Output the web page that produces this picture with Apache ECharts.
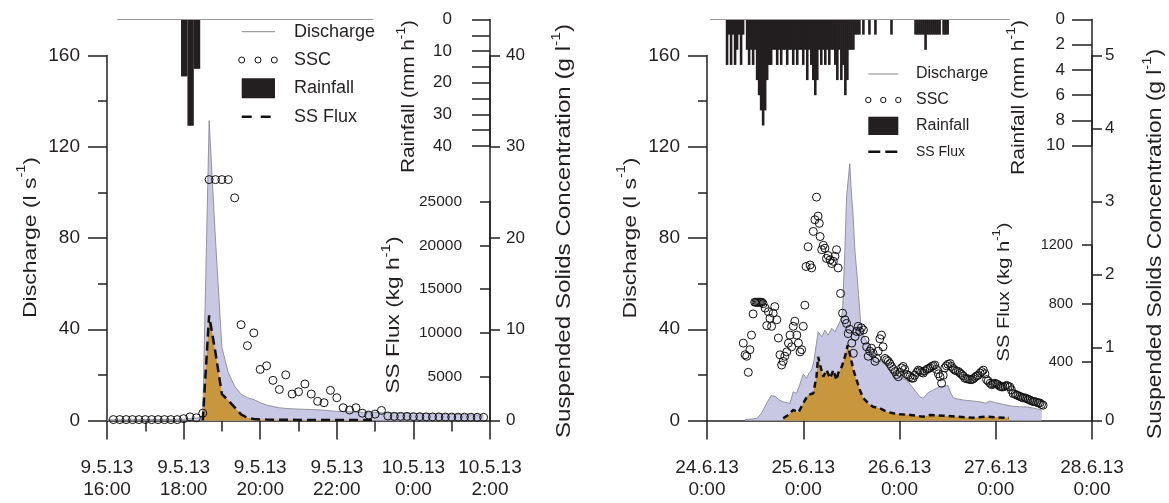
<!DOCTYPE html>
<html><head><meta charset="utf-8">
<script src="https://cdn.jsdelivr.net/npm/echarts@6/dist/echarts.min.js"></script>
<style>html,body{margin:0;padding:0;background:#fff}#c{width:1169px;height:503px}</style>
</head><body><div id="c"></div>
<script>
// ================= DATA =================
// ---- Left event: time in minutes after 9.5.13 16:00 ----
const xTickLabelsL = ["9.5.13\n16:00","9.5.13\n18:00","9.5.13\n20:00","9.5.13\n22:00","10.5.13\n0:00","10.5.13\n2:00"];
const dischargeTimeL = [0,10,20,30,40,50,60,70,80,90,100,110,120,130,140,150,160,170,180,190,200,210,220,230,240,250,260,270,280,290,300,310,320,330,340,350,360,370,380,390,400,410,420,430,440,450,460,470,480,490,500,510,520,530,540,550,560,570,580,590];
const dischargeL = [0.3,0.3,0.3,0.3,0.3,0.4,0.4,0.4,0.4,0.5,0.5,0.5,0.6,0.8,1.0,2.0,131.5,79,32,21,15,11.5,10,9.2,7.8,6.8,6.1,5.6,5.3,5.1,5.0,4.9,4.8,4.7,4.5,4.3,4.0,3.9,3.8,3.7,3.6,3.6,3.5,3.4,3.4,3.3,3.3,3.2,3.1,3.0,3.0,2.9,2.9,2.8,2.7,2.6,2.6,2.5,2.5,2.4];
const sscTimeL = [10,20,30,40,50,60,70,80,90,100,110,120,130,140,150,160,170,180,190,200,210,220,230,240,250,260,270,280,290,300,310,320,330,340,350,360,370,380,390,400,410,420,430,440,450,460,470,480,490,500,510,520,530,540,550,560,570,580,590];
const sscL = [0.1,0.1,0.1,0.1,0.1,0.1,0.1,0.1,0.1,0.1,0.1,0.2,0.4,0.3,0.8,26.4,26.4,26.4,26.4,24.4,10.5,8.2,9.6,5.6,6.0,4.4,3.4,5.0,2.9,3.15,4.0,2.9,2.1,1.95,3.3,2.5,1.4,1.15,1.4,0.8,0.6,0.7,1.1,0.5,0.45,0.45,0.45,0.42,0.42,0.4,0.4,0.4,0.38,0.38,0.37,0.37,0.36,0.35,0.35];
const fluxTimeL = [150,160,170,180,190,200,210,220,230,240,250,260,270,280,290,300,310,320,330,340,350,360,370,380,390,400,410,420];
const fluxL = [0,12000,7700,3000,2300,1500,700,300,170,120,100,90,85,80,75,70,68,66,64,62,60,58,56,55,54,53,52,50];
const rainTimeL = [121,131,141];          // 10-min bin centres
const rainL = [18.0,33.6,15.6];           // mm h-1
const rainSpanL = [16,417];               // rain record extent

// ---- Right event: time in hours after 24.6.13 0:00 ----
const xTickLabelsR = ["24.6.13\n0:00","25.6.13\n0:00","26.6.13\n0:00","27.6.13\n0:00","28.6.13\n0:00"];
const dischargeTimeR = [9.5,11,12.5,13.5,14,15,16,17,18,19,20,20.7,21.5,22.3,23,24,24.8,25.5,26.1,26.7,27.7,28.6,29.4,30.2,31.1,31.9,32.6,33.3,33.8,34.4,34.8,35.6,36.0,36.4,36.9,37.4,37.8,38.3,39.0,39.8,41,42.5,44,46,48,49.8,51.5,53.1,53.9,55,56.4,58.1,60.1,60.8,61.4,62.5,63.9,66,68,69.5,70.5,72,74,76,78,80,82,83.5];
const dischargeR = [0.5,0.6,1.0,3,4.6,8,10.9,10.6,9.0,8.2,7.8,7.5,12.6,11.9,15,20.4,18.5,21,22.1,26.5,38.9,36.7,39.6,37.4,40.4,38.9,41.4,44,48,76,98,112.6,100,91,74,64,55,43,37,35,30,27,25,21.5,19,17.7,14,10.4,9.8,12,13.4,14.8,15.3,12,10,9.4,9.0,8.6,8.2,7.6,8.5,7.8,7.0,6.3,6.0,5.9,5.2,4.6];
const fluxTimeR = [19.0,20.3,21.5,22.8,24.0,25.2,26.5,27.3,27.7,28.2,29.0,29.8,30.7,31.5,32.3,32.7,33.6,34.4,35.1,35.6,36.5,37.3,38.1,39.0,40.2,41.4,43.1,44.8,46.4,48.3,50.7,53.9,55.6,58.9,62.2,66.4,69.7,72.0,75.3];
const fluxR = [15,38,72,55,118,174,186,300,436,380,300,345,289,345,277,323,368,436,516,459,345,277,209,152,118,94,83,60,49,42,38,26,38,33,26,19,26,22,18];
const sscTimeR = [9.05,9.5,9.9,10.3,10.7,11.1,11.5,11.9,12.2,12.5,12.8,13.1,13.4,13.7,14.0,14.5,14.9,15.3,15.7,16.1,16.5,16.9,17.4,17.8,18.2,18.6,19.0,19.4,19.9,20.3,20.7,21.1,21.5,21.9,22.4,22.8,23.2,23.6,24.0,24.4,24.7,25.2,25.7,26.1,26.5,26.9,27.3,27.7,28.0,28.2,28.6,29.0,29.4,29.8,30.2,30.7,31.1,31.5,31.9,32.3,32.7,33.3,33.8,34.4,34.8,35.2,35.6,36.1,36.5,36.9,37.3,37.7,38.1,38.5,39.0,39.4,39.8,40.2,40.6,41.0,41.4,41.9,42.3,42.7,43.1,43.5,43.9,44.4,44.8,45.2,45.6,46.0,46.5,46.9,47.3,47.7,48.1,48.5,48.9,49.3,49.8,50.2,50.6,51.0,51.4,51.8,52.3,52.7,53.1,53.5,53.9,54.3,54.8,55.2,55.6,56.0,56.4,56.8,57.2,57.7,58.1,58.5,58.9,59.3,59.7,60.1,60.6,61.0,61.4,61.8,62.2,62.7,63.1,63.5,63.9,64.3,64.8,65.2,65.6,66.0,66.4,66.8,67.2,67.6,68.1,68.5,68.9,69.3,69.7,70.1,70.6,71.0,71.4,71.8,72.2,72.6,73.0,73.4,73.8,74.3,74.7,75.1,75.5,75.9,76.3,76.8,77.2,77.6,78.0,78.4,78.8,79.3,79.7,80.1,80.5,80.9,81.3,81.7,82.2,82.6,83.0,83.4,83.8];
const sscR = [1.06,0.90,0.88,0.66,0.97,1.17,1.46,1.62,1.62,1.62,1.62,1.62,1.62,1.62,1.60,1.54,1.30,1.49,1.40,1.29,1.47,1.56,1.38,1.13,0.90,0.76,0.81,0.88,0.94,1.06,1.17,1.01,1.29,1.36,1.17,1.06,0.94,0.97,1.29,1.58,2.11,2.38,2.13,2.09,2.59,2.75,3.06,2.80,2.70,2.52,2.34,2.40,2.36,2.22,2.26,2.20,2.15,2.18,2.25,2.34,2.09,1.74,1.47,1.38,1.33,1.19,1.25,1.06,0.92,1.15,1.22,1.29,1.22,1.27,1.24,1.10,1.01,0.88,0.95,0.99,0.92,0.81,0.85,0.95,1.12,1.17,1.01,0.85,0.83,0.81,0.78,0.74,0.70,0.67,0.63,0.60,0.66,0.72,0.74,0.70,0.63,0.62,0.60,0.58,0.58,0.62,0.66,0.69,0.68,0.66,0.65,0.68,0.70,0.71,0.72,0.74,0.75,0.76,0.70,0.64,0.60,0.51,0.62,0.72,0.75,0.77,0.78,0.74,0.71,0.69,0.68,0.67,0.65,0.63,0.61,0.58,0.57,0.57,0.56,0.56,0.57,0.59,0.61,0.62,0.65,0.67,0.69,0.64,0.56,0.54,0.51,0.49,0.50,0.51,0.50,0.49,0.47,0.46,0.46,0.47,0.48,0.47,0.46,0.42,0.37,0.36,0.35,0.34,0.33,0.32,0.31,0.31,0.30,0.29,0.28,0.27,0.26,0.26,0.25,0.24,0.24,0.22,0.21];
const rainTimeR = [5.0,5.5,6.0,6.5,7.0,7.5,8.0,8.5,9.0,10.0,10.5,11.0,11.5,12.0,12.5,13.0,13.5,14.0,14.5,15.0,15.5,16.0,16.5,17.0,17.5,18.0,18.5,19.0,19.5,20.0,20.5,21.0,21.5,22.0,22.5,23.0,23.5,24.0,24.5,25.0,25.5,26.0,26.5,27.0,27.5,28.0,28.5,29.0,29.5,30.0,30.5,31.0,31.5,32.0,32.5,33.0,33.5,34.0,34.5,35.0,35.5,36.0,36.5,37.0,37.5,38.0,39.0,40.5,42.0,46.0,52.0,52.5,53.0,53.5,54.0,54.5,55.0,55.5,56.0,56.5,57.0,57.5,58.0,59.0,59.5,60.0];
const rainR = [3.6,1.2,3.6,1.2,3.6,2.4,1.2,3.6,1.2, 2.4,3.6,2.4,3.6,2.4,4.8,6.0,7.2,8.4,7.2, 4.8,3.6,3.6,2.4,2.4,3.6,2.4,3.6,2.4,2.4, 3.6,2.4,2.4,3.6,2.4,3.6,2.4,2.4,3.6,2.4, 4.8,2.4,3.6,4.8,6.0,4.8,2.4,3.6,2.4,3.6, 2.4,3.6,2.4,2.4,3.6,4.8,2.4,4.8,3.6,6.0, 4.8,2.4,2.4,2.4,1.2,1.2, 1.2,1.2,1.2,1.2,1.2, 1.2,1.2,1.2,1.2,1.2,2.4,1.2,1.2,1.2,1.2,1.2,1.2,1.2, 1.2,1.2,1.2];
const rainSpanR = [0.75,75.5];

// ================= STYLE / LAYOUT =================
const C = '#231f20';
const FF = "'Liberation Sans', Arial, Helvetica, sans-serif";
const LAV = '#c9c8e4';
const GOLD = '#c8963c';
const pairs = (t, v) => t.map((x, i) => [x, v[i]]);
const ls = {color: C, width: 1.5};

const meas = document.createElement('canvas').getContext('2d');
function tw(str, size) { meas.font = size + "px 'Liberation Sans', Arial"; return meas.measureText(str).width; }
function vTitle(x, y, pre, sup, post, size, target) {
  const ss = Math.round(size * 0.65);
  const w = tw(pre, size) + tw(sup, ss) + tw(post, size);
  return {
    type: 'text', x: x, y: y, rotation: Math.PI / 2, scaleX: target / w,
    style: {
      text: '{a|' + pre + '}{s|' + sup + '}{a|' + post + '}',
      align: 'center', verticalAlign: 'middle',
      rich: {
        a: {fontSize: size, fontFamily: FF, fill: C, lineHeight: size * 1.25, verticalAlign: 'bottom'},
        s: {fontSize: ss, fontFamily: FF, fill: C, lineHeight: size * 1.25, verticalAlign: 'top'}
      }
    }
  };
}
function txt(x, y, s, size) {
  return {type: 'text', x: x, y: y, style: {text: s, fontSize: size, fontFamily: FF, fill: C, align: 'left', verticalAlign: 'middle'}};
}
function circ(x, y, r) { return {type: 'circle', shape: {cx: x, cy: y, r: r}, style: {fill: 'none', stroke: '#111', lineWidth: 1}}; }

function xMain(grid, max, interval, labels, minor) {
  return {
    gridIndex: grid, type: 'value', min: 0, max: max, interval: interval,
    axisLine: {show: true, onZero: false, lineStyle: ls},
    axisTick: {show: true, length: 19, lineStyle: ls},
    minorTick: {show: minor, splitNumber: 2, length: 11, lineStyle: ls},
    splitLine: {show: false}, minorSplitLine: {show: false},
    axisLabel: {formatter: v => labels[Math.round(v / interval)] || '', margin: 36, fontSize: 19, lineHeight: 22, color: C, fontFamily: FF}
  };
}
function xHidden(grid, max) { return {gridIndex: grid, type: 'value', min: 0, max: max, show: false}; }
function yAx(o) {
  return {
    type: 'value', gridIndex: o.grid, position: o.pos, min: 0, max: o.max, interval: o.interval, inverse: !!o.inverse,
    splitLine: {show: false}, minorSplitLine: {show: false},
    axisLine: {show: true, onZero: false, lineStyle: ls},
    axisTick: {show: true, length: o.tick, inside: !!o.inside, lineStyle: ls},
    minorTick: {show: !!o.minor, splitNumber: 2, length: o.minorLen || o.tick, lineStyle: ls},
    axisLabel: {inside: !!o.inside, margin: o.margin, fontSize: o.fs, color: C, fontFamily: FF,
      showMinLabel: o.showMin !== false, formatter: v => String(v)}
  };
}

const option = {
  animation: false,
  backgroundColor: '#fff',
  grid: [
    {left: 107, top: 55.5, width: 383, height: 365},
    {left: 107, top: 19.5, width: 383, height: 126.5},
    {left: 107, top: 201.5, width: 383, height: 219},
    {left: 707, top: 55.5, width: 385, height: 365},
    {left: 707, top: 19.5, width: 385, height: 126.2},
    {left: 707, top: 245, width: 385, height: 175.5}
  ],
  xAxis: [
    xMain(0, 600, 120, xTickLabelsL, true), xHidden(1, 600), xHidden(2, 600),
    xMain(3, 96, 24, xTickLabelsR, false), xHidden(4, 96), xHidden(5, 96)
  ],
  yAxis: [
    yAx({grid: 0, pos: 'left', max: 160, interval: 40, tick: 19, minor: true, minorLen: 9, margin: 27, fs: 19}),
    yAx({grid: 0, pos: 'right', max: 40, interval: 10, tick: 10, margin: 16, fs: 17}),
    yAx({grid: 1, pos: 'right', max: 40, interval: 10, tick: 18, inside: true, minor: true, minorLen: 18, margin: 38, fs: 17, inverse: true}),
    yAx({grid: 2, pos: 'right', max: 25000, interval: 5000, tick: 10, inside: true, margin: 28, fs: 15.5, showMin: false}),
    yAx({grid: 3, pos: 'left', max: 160, interval: 40, tick: 19, minor: true, minorLen: 9, margin: 27, fs: 19}),
    yAx({grid: 3, pos: 'right', max: 5, interval: 1, tick: 10, margin: 13, fs: 17}),
    yAx({grid: 4, pos: 'right', max: 10, interval: 2, tick: 20, inside: true, margin: 27, fs: 17, inverse: true}),
    yAx({grid: 5, pos: 'right', max: 1200, interval: 400, tick: 10, inside: true, margin: 19, fs: 14.5, showMin: false})
  ],
  series: [
    // ---- left ----
    {type: 'line', name: 'Discharge', xAxisIndex: 0, yAxisIndex: 0, data: pairs(dischargeTimeL, dischargeL), symbol: 'none',
      lineStyle: {color: '#7f7f8c', width: 0.8}, areaStyle: {color: LAV, opacity: 1}, z: 1},
    {type: 'line', name: 'SS Flux', xAxisIndex: 2, yAxisIndex: 3, data: pairs(fluxTimeL, fluxL), symbol: 'none',
      lineStyle: {color: '#111', width: 2.5, type: [9, 5]}, areaStyle: {color: GOLD, opacity: 1}, z: 2},
    {type: 'bar', name: 'Rainfall', xAxisIndex: 1, yAxisIndex: 2, data: pairs(rainTimeL, rainL), barWidth: 6.4, itemStyle: {color: C}, z: 3},
    {type: 'line', xAxisIndex: 1, yAxisIndex: 2, data: rainSpanL.map(t => [t, 0]), symbol: 'none', lineStyle: {color: '#9a9a9a', width: 1}, z: 3},
    {type: 'scatter', name: 'SSC', xAxisIndex: 0, yAxisIndex: 1, data: pairs(sscTimeL, sscL), symbol: 'circle', symbolSize: 8,
      itemStyle: {color: 'rgba(0,0,0,0)', borderColor: '#111', borderWidth: 1, opacity: 1}, z: 4},
    // ---- right ----
    {type: 'line', name: 'Discharge', xAxisIndex: 3, yAxisIndex: 4, data: pairs(dischargeTimeR, dischargeR), symbol: 'none',
      lineStyle: {color: '#7f7f8c', width: 0.8}, areaStyle: {color: LAV, opacity: 1}, z: 1},
    {type: 'line', name: 'SS Flux', xAxisIndex: 5, yAxisIndex: 7, data: pairs(fluxTimeR, fluxR), symbol: 'none',
      lineStyle: {color: '#111', width: 2.5, type: [6, 4]}, areaStyle: {color: GOLD, opacity: 1}, z: 2},
    {type: 'bar', name: 'Rainfall', xAxisIndex: 4, yAxisIndex: 6, data: pairs(rainTimeR, rainR), barWidth: 2.6, itemStyle: {color: C}, z: 3},
    {type: 'line', xAxisIndex: 4, yAxisIndex: 6, data: rainSpanR.map(t => [t, 0]), symbol: 'none', lineStyle: {color: '#9a9a9a', width: 1}, z: 3},
    {type: 'scatter', name: 'SSC', xAxisIndex: 3, yAxisIndex: 5, data: pairs(sscTimeR, sscR), symbol: 'circle', symbolSize: 8,
      itemStyle: {color: 'rgba(0,0,0,0)', borderColor: '#111', borderWidth: 1, opacity: 1}, z: 4}
  ],
  graphic: [
    // left legend
    {type: 'line', shape: {x1: 241.7, y1: 31.7, x2: 275, y2: 31.7}, style: {stroke: '#888', lineWidth: 1}},
    txt(294, 31.7, 'Discharge', 18),
    circ(241.7, 60, 3), circ(258, 60, 3), circ(274.3, 60, 3),
    txt(294, 60, 'SSC', 18),
    {type: 'rect', shape: {x: 241.7, y: 78.3, width: 33.3, height: 20}, style: {fill: C}},
    txt(294, 88.3, 'Rainfall', 18),
    {type: 'line', shape: {x1: 241.7, y1: 116.7, x2: 271, y2: 116.7}, style: {stroke: '#111', lineWidth: 2.5, lineDash: [10, 9]}},
    txt(294, 116.7, 'SS Flux', 18),
    // right legend
    {type: 'line', shape: {x1: 868.3, y1: 74, x2: 898.3, y2: 74}, style: {stroke: '#888', lineWidth: 1}},
    txt(916, 74, 'Discharge', 16),
    circ(868.3, 100, 2.7), circ(883.3, 100, 2.7), circ(898.3, 100, 2.7),
    txt(916, 100, 'SSC', 16),
    {type: 'rect', shape: {x: 868.3, y: 116.7, width: 30, height: 18.3}, style: {fill: C}},
    txt(916, 126, 'Rainfall', 16),
    {type: 'line', shape: {x1: 868.3, y1: 151.7, x2: 898.3, y2: 151.7}, style: {stroke: '#111', lineWidth: 2.5, lineDash: [12, 5]}},
    txt(916, 151.7, 'SS Flux', 14),
    // axis titles
    vTitle(28, 237.5, 'Discharge (l s', '-1', ')', 19, 161),
    vTitle(628, 238, 'Discharge (l s', '-1', ')', 19, 161),
    vTitle(407, 96.5, 'Rainfall (mm h', '-1', ')', 18, 153),
    vTitle(1017, 97.5, 'Rainfall (mm h', '-1', ')', 18, 155),
    vTitle(392, 315, 'SS Flux (kg h', '-1', ')', 18, 157),
    vTitle(1002, 292, 'SS Flux (kg h', '-1', ')', 17, 139),
    vTitle(562, 231, 'Suspended Solids Concentration (g l', '-1', ')', 20, 414),
    vTitle(1153, 244, 'Suspended Solids Concentration (g l', '-1', ')', 20, 390)
  ]
};
const chart = echarts.init(document.getElementById('c'), null, {renderer: 'canvas'});
chart.setOption(option);
</script>
</body></html>
